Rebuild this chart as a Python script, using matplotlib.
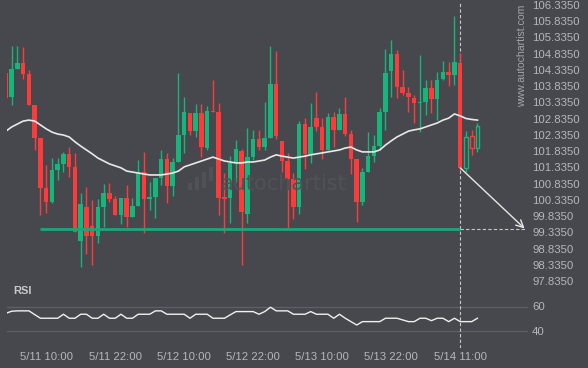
import matplotlib
matplotlib.use("Agg")
import matplotlib.pyplot as plt
from matplotlib.patches import Rectangle
import numpy as np

plt.rcParams['font.family'] = ['Liberation Sans', 'DejaVu Sans']

# ---------------- data ----------------
opens = [104.23, 103.51, 104.36, 104.56, 104.22, 103.25, 102.25, 100.71, 100.28, 101.25,
         101.44, 101.75, 101.36, 99.08, 100.11, 99.53, 99.22, 100.12, 100.55, 100.36,
         99.87, 100.40, 99.82, 100.15, 101.19, 100.36, 100.43, 101.02, 101.59, 100.77,
         101.51, 102.33, 103.00, 102.46, 103.02, 101.94, 103.07, 103.05, 100.43, 100.40,
         101.48, 101.84, 99.90, 101.64, 102.21, 101.97, 102.25, 103.90, 102.15, 101.53,
         100.98, 100.10, 102.67, 101.75, 102.85, 102.57, 101.87, 102.88, 102.49, 102.98,
         102.36, 101.59, 100.28, 101.20, 101.69, 101.99, 103.05, 104.31, 104.83, 103.80,
         103.62, 103.46, 103.31, 103.35, 103.77, 103.44, 104.06, 104.27, 104.19, 104.56,
         101.31, 102.30, 101.94]
closes = [103.48, 104.36, 104.56, 104.22, 103.25, 102.25, 100.71, 100.28, 101.25, 101.44,
          101.75, 101.36, 99.35, 100.21, 99.22, 99.22, 100.11, 100.55, 100.36, 99.87,
          100.40, 99.82, 100.15, 101.15, 100.36, 100.43, 101.02, 101.59, 100.77, 101.51,
          102.33, 103.05, 102.46, 103.02, 101.97, 103.07, 103.04, 100.38, 100.36, 101.48,
          101.90, 99.97, 101.64, 102.21, 101.97, 102.25, 103.90, 102.30, 101.53, 100.98,
          100.12, 102.67, 101.75, 102.57, 102.57, 101.87, 102.88, 102.49, 102.98, 102.36,
          101.59, 100.28, 101.20, 101.69, 101.99, 103.05, 104.25, 104.83, 103.82, 103.63,
          103.49, 103.31, 103.35, 103.77, 103.44, 104.03, 104.27, 104.19, 104.58, 101.32,
          102.28, 101.94, 102.61]
highs = [104.24, 105.07, 105.07, 105.03, 104.33, 103.25, 102.25, 101.41, 101.63, 101.62,
         101.81, 101.95, 101.78, 100.55, 100.73, 100.33, 100.36, 100.82, 100.85, 100.45,
         100.40, 100.79, 100.39, 101.56, 101.81, 100.89, 101.02, 101.87, 101.78, 101.62,
         104.23, 103.51, 103.00, 103.29, 103.29, 103.23, 104.03, 103.32, 101.15, 101.69,
         102.18, 101.90, 102.55, 102.49, 102.49, 103.34, 105.07, 104.93, 102.15, 101.78,
         101.16, 102.76, 102.85, 103.31, 103.67, 102.85, 103.02, 103.05, 103.15, 103.49,
         102.49, 101.59, 101.32, 102.43, 102.33, 103.16, 104.97, 105.26, 104.95, 104.33,
         103.82, 103.56, 104.80, 104.03, 104.03, 104.28, 104.62, 104.59, 106.00, 104.87,
         102.45, 102.49, 102.71]
lows = [103.47, 103.25, 104.36, 104.05, 103.25, 101.87, 99.87, 99.93, 100.24, 100.95,
        101.20, 101.05, 99.34, 98.27, 98.67, 98.33, 99.01, 99.50, 100.28, 99.87,
        99.59, 99.51, 99.82, 100.15, 99.31, 100.02, 99.78, 100.79, 100.24, 100.46,
        101.51, 101.78, 102.33, 102.28, 101.66, 101.87, 103.04, 99.87, 99.30, 99.62,
        100.89, 98.33, 99.62, 101.56, 101.87, 101.87, 102.25, 102.21, 101.20, 99.47,
        99.74, 99.90, 101.28, 101.46, 102.46, 101.58, 101.87, 101.95, 102.49, 102.30,
        101.13, 99.66, 100.18, 101.20, 101.51, 101.87, 102.49, 103.49, 103.46, 103.56,
        103.05, 102.71, 102.43, 102.95, 103.00, 102.79, 104.03, 103.84, 103.87, 101.25,
        101.20, 101.72, 101.82]
ma = [102.45, 102.58, 102.67, 102.76, 102.79, 102.76, 102.64, 102.52, 102.42, 102.36,
      102.33, 102.27, 102.12, 101.99, 101.87, 101.75, 101.62, 101.53, 101.44, 101.38,
      101.32, 101.22, 101.19, 101.16, 101.13, 101.10, 101.10, 101.10, 101.13, 101.16,
      101.22, 101.35, 101.41, 101.47, 101.53, 101.59, 101.65, 101.59, 101.53, 101.50,
      101.47, 101.47, 101.50, 101.50, 101.53, 101.56, 101.65, 101.72, 101.68, 101.65,
      101.62, 101.65, 101.68, 101.72, 101.75, 101.78, 101.81, 101.84, 101.87, 101.93,
      101.96, 101.87, 101.81, 101.81, 101.81, 101.87, 102.02, 102.15, 102.27, 102.36,
      102.45, 102.49, 102.52, 102.58, 102.64, 102.70, 102.79, 102.85, 102.98, 102.92,
      102.84, 102.81, 102.79]
rsi = [54.4, 56.1, 56.4, 56.4, 56.4, 53.3, 50.3, 50.3, 50.3, 50.3,
       53.6, 50.3, 50.3, 53.6, 53.6, 50.3, 50.3, 53.6, 50.3, 50.3,
       53.6, 50.3, 50.3, 53.6, 53.6, 53.6, 56.4, 56.4, 53.6, 53.6,
       53.6, 53.6, 50.3, 53.6, 53.6, 53.6, 50.3, 50.3, 50.3, 53.1,
       55.8, 55.8, 55.8, 55.8, 53.6, 55.8, 59.4, 56.4, 56.4, 56.4,
       53.6, 53.6, 53.6, 55.8, 53.6, 53.6, 53.6, 50.3, 53.6, 50.3,
       47.5, 44.7, 47.5, 47.5, 47.5, 47.5, 50.3, 50.3, 50.3, 48.9,
       47.5, 47.5, 50.3, 50.3, 48.3, 50.3, 50.3, 47.5, 50.3, 47.5,
       47.5, 47.5, 50.3]
tick_idx = [7, 19, 31, 43, 55, 67, 79]
tick_labels = ['5/11 10:00', '5/11 22:00', '5/12 10:00', '5/12 22:00',
               '5/13 10:00', '5/13 22:00', '5/14 11:00']
price_ticks = [97.835 + 0.5 * k for k in range(18)]
rsi_ticks = [40, 60]
target_level = 99.45
signal_idx = 79
line_start_idx = 6
proj_end_idx = 90.2
hollow_from = 80

# ---------------- style ----------------
BG = '#46484d'
GREEN = '#17b47b'
RED = '#fe3b3b'
TXT = '#b4b6ba'
W, H = 588, 368

fig = plt.figure(figsize=(W / 100, H / 100), dpi=100, facecolor=BG)
ax = fig.add_axes([7 / W, 1 - 290 / H, 521 / W, 290 / H])
rax = fig.add_axes([7 / W, 1 - 348 / H, 521 / W, 58 / H])
for a in (ax, rax):
    a.set_facecolor('none')
    for s in a.spines.values():
        s.set_visible(False)

n = len(opens)
x = np.arange(n)
xlim = (0.18, 90.79)

# watermark logo + text
for bx, btop, bbot in [(188, 183, 190), (195, 177, 190), (202, 172, 188), (209, 167, 181)]:
    fig.patches.append(Rectangle((bx / W, 1 - bbot / H), 4 / W, (bbot - btop) / H,
                                 transform=fig.transFigure, facecolor='#505257',
                                 edgecolor='none', zorder=0))
fig.text(221 / W, 1 - 184 / H, 'autochartist', fontsize=15, color='#505257',
         family='DejaVu Sans', va='center', ha='left', zorder=0)

# candles
bw = 0.78
for i in range(n):
    o, c, h, l = opens[i], closes[i], highs[i], lows[i]
    col = GREEN if c >= o else RED
    ax.vlines(i, l, h, color=col, lw=1.0, zorder=2)
    bot = min(o, c)
    ht = max(abs(c - o), 0.03)
    if i >= hollow_from:
        ax.bar(i, ht, bottom=bot, width=bw - 0.15, facecolor=BG, edgecolor=col,
               linewidth=1.0, zorder=3)
    else:
        ax.bar(i, ht, bottom=bot, width=bw, color=col, linewidth=0, zorder=3)

# moving average
ax.plot(x, ma, color='#e8e8e8', lw=1.2, zorder=4)

# support line + projection
ax.plot([line_start_idx, signal_idx], [target_level, target_level], color='#1ba67a',
        lw=2.0, zorder=4, solid_capstyle='butt')
ax.plot([signal_idx, proj_end_idx], [target_level, target_level], color='#c8c8c8',
        lw=0.8, dashes=(3, 2), zorder=4)
ax.axvline(signal_idx, ymin=0, ymax=0.99, color='#c8c8c8', lw=0.8, dashes=(3, 2), zorder=1)
ax.annotate('', xy=(proj_end_idx, target_level), xytext=(signal_idx, closes[signal_idx]),
            arrowprops=dict(arrowstyle='->', color='#e6e6e6', lw=1.0, mutation_scale=13,
                            shrinkA=0, shrinkB=0), zorder=5)

ax.set_xlim(*xlim)
ax.set_ylim(106.489 - 0.0308 * 290, 106.489)
ax.yaxis.tick_right()
ax.set_yticks(price_ticks)
ax.set_yticklabels([f'{p:.4f}' for p in price_ticks])
ax.tick_params(axis='y', length=0, pad=3.3, labelsize=8.2, labelcolor=TXT)
for t in ax.get_yticklabels():
    t.set_horizontalalignment('left')
ax.set_xticks([])

# RSI panel
rax.plot(x, rsi, color='#f0f0f0', lw=1.0, zorder=3)
rax.set_xlim(*xlim)
rax.set_ylim(60 - (348 - 306.5) / 1.21, 60 + (306.5 - 290) / 1.21)
for v in rsi_ticks:
    rax.axhline(v, color='#5e6065', lw=0.9, zorder=1)
rax.axvline(signal_idx, color='#c8c8c8', lw=0.8, dashes=(3, 2), zorder=2)
rax.yaxis.tick_right()
rax.set_yticks(rsi_ticks)
rax.set_yticklabels([str(v) for v in rsi_ticks])
rax.tick_params(axis='y', length=0, pad=3.0, labelsize=8.2, labelcolor=TXT)
rax.set_xticks(tick_idx)
rax.set_xticklabels(tick_labels)
rax.tick_params(axis='x', length=0, pad=3.0, labelsize=8.2, labelcolor=TXT)

fig.text(13 / W, 1 - 291 / H, 'RSI', fontsize=8, fontweight='bold', color='#c8c9cc',
         va='center', ha='left')
fig.text(522 / W, 1 - 5 / H, 'www.autochartist.com', rotation=90, fontsize=7.6,
         color='#a3a5a9', va='top', ha='center')

fig.savefig('out.png', dpi=100, facecolor=BG)
